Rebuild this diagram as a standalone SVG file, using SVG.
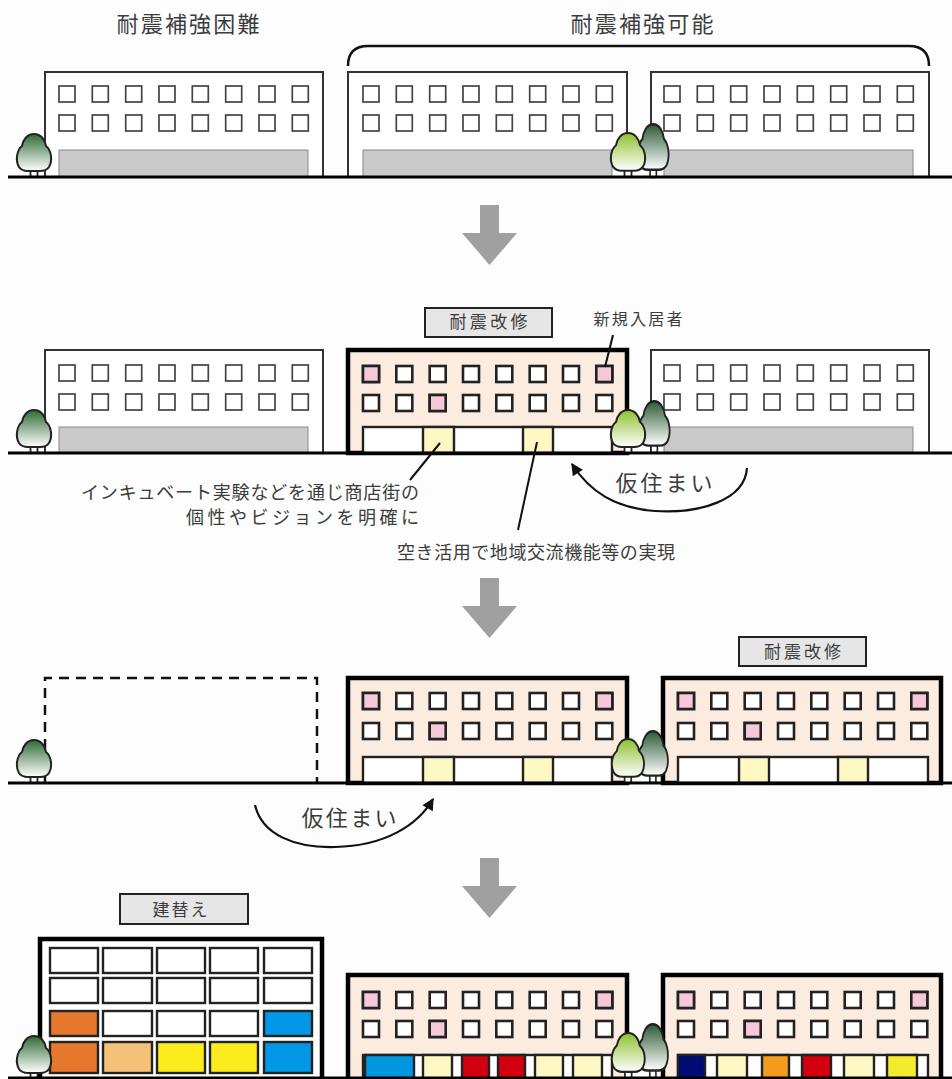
<svg xmlns="http://www.w3.org/2000/svg" xmlns:xlink="http://www.w3.org/1999/xlink" width="952" height="1079" viewBox="0 0 952 1079">
  <defs>
    <style>
      .ground{stroke:#000;stroke-width:3}
      .old{fill:#fff;stroke:#333;stroke-width:2}
      .wo{fill:#fff;stroke:#444;stroke-width:1.7}
      .band{fill:#c9c9c9;stroke:#888;stroke-width:1}
      .new{fill:#fcece0;stroke:#000;stroke-width:4.5}
      .wn{fill:#fff;stroke:#222;stroke-width:2.6}
      .pk{fill:#f7c8da}
      .strip{fill:#fff;stroke:#222;stroke-width:2.4}
      .cell{stroke:#222;stroke-width:2.4}
      .ly{fill:#fdf7c3}
      .lbl{fill:#e6e6e6;stroke:#222;stroke-width:2}
      .t{font-family:"Noto Sans CJK JP","Noto Sans CJK SC",sans-serif;fill:#3c3c3c}
      .lead{stroke:#111;stroke-width:2;fill:none}
      .curve{stroke:#111;stroke-width:2.2;fill:none}
      .down{fill:#a0a0a0}
      .trunk{fill:#fff;stroke:#222;stroke-width:1.8}
      .crown{stroke:#222;stroke-width:2}
    </style>
    <linearGradient id="gDark" x1="0" y1="0" x2="0" y2="1">
      <stop offset="0" stop-color="#2f6a34"/>
      <stop offset="1" stop-color="#ffffff"/>
    </linearGradient>
    <linearGradient id="gDeep" x1="0" y1="0" x2="0" y2="1">
      <stop offset="0" stop-color="#2d5a36"/>
      <stop offset="1" stop-color="#ffffff"/>
    </linearGradient>
    <linearGradient id="gLight" x1="0" y1="0" x2="0" y2="1">
      <stop offset="0" stop-color="#8fbf2f"/>
      <stop offset="1" stop-color="#ffffff"/>
    </linearGradient>
    <marker id="head" viewBox="0 0 10 10" refX="9" refY="5" markerWidth="13" markerHeight="12" markerUnits="userSpaceOnUse" orient="auto">
      <path d="M0,0 L10,5 L0,10 Z" fill="#111"/>
    </marker>
    <!-- one window -->
    <rect id="w" width="16" height="16"/>
    <!-- eight windows in a row -->
    <g id="row8">
      <rect x="0" width="16" height="16"/>
      <rect x="33.3" width="16" height="16"/>
      <rect x="66.7" width="16" height="16"/>
      <rect x="100" width="16" height="16"/>
      <rect x="133.3" width="16" height="16"/>
      <rect x="166.7" width="16" height="16"/>
      <rect x="200" width="16" height="16"/>
      <rect x="233.3" width="16" height="16"/>
    </g>
    <!-- trees, 36 wide and 44 tall -->
    <path id="crownShape" d="M18,1 C25,1 29,7 30,13 C35,17 37,27 33,34 C31,37 27,38 24,38 L12,38 C9,38 5,37 3,34 C-1,27 1,17 6,13 C7,7 11,1 18,1 Z"/>
    <g id="treeDark">
      <rect class="trunk" x="14.5" y="36" width="7" height="8"/>
      <use href="#crownShape" class="crown" fill="url(#gDark)"/>
    </g>
    <g id="treeDeep">
      <rect class="trunk" x="14.5" y="36" width="7" height="8"/>
      <use href="#crownShape" class="crown" fill="url(#gDeep)"/>
    </g>
    <g id="treeLight">
      <rect class="trunk" x="14.5" y="36" width="7" height="8"/>
      <use href="#crownShape" class="crown" fill="url(#gLight)"/>
    </g>
  </defs>

  <rect width="952" height="1079" fill="#fdfdfd"/>

  <!-- headings -->
  <g id="heading-hard">
    <text class="t" x="188" y="32" font-size="22" text-anchor="middle" textLength="143" lengthAdjust="spacing">耐震補強困難</text>
  </g>
  <g id="heading-possible">
    <text class="t" x="642" y="32" font-size="22" text-anchor="middle" textLength="143" lengthAdjust="spacing">耐震補強可能</text>
  </g>

  <!-- ===== stage 1 ===== -->
  <g id="s1-bldg-a">
    <rect class="old" x="45" y="72" width="278" height="105"/>
    <use href="#row8" class="wo" x="59" y="86"/>
    <use href="#row8" class="wo" x="59" y="115"/>
    <rect class="band" x="59" y="150" width="249" height="27"/>
  </g>
  <g id="s1-bldg-b">
    <rect class="old" x="348" y="72" width="279" height="105"/>
    <use href="#row8" class="wo" x="363" y="86"/>
    <use href="#row8" class="wo" x="363" y="115"/>
    <rect class="band" x="363" y="150" width="249" height="27"/>
  </g>
  <g id="s1-bldg-c">
    <rect class="old" x="651" y="72" width="278" height="105"/>
    <use href="#row8" class="wo" x="664" y="86"/>
    <use href="#row8" class="wo" x="664" y="115"/>
    <rect class="band" x="664" y="150" width="249" height="27"/>
  </g>
  <g id="s1-trees">
    <use href="#treeDark" transform="translate(16,133)"/>
    <use href="#treeDeep" transform="translate(637,123) scale(0.9,1.23)"/>
    <use href="#treeLight" transform="translate(610,132) scale(1.0,1.02)"/>
  </g>
  <line class="ground" x1="8" y1="177" x2="952" y2="177"/>

  <!-- ===== stage 2 ===== -->
  <g id="s2-bldg-a">
    <rect class="old" x="45" y="350" width="278" height="103"/>
    <use href="#row8" class="wo" x="59" y="365"/>
    <use href="#row8" class="wo" x="59" y="394"/>
    <rect class="band" x="59" y="427" width="249" height="26"/>
  </g>
  <g id="s2-bldg-b">
    <rect class="new" x="348" y="350" width="279" height="103"/>
    <use href="#row8" class="wn" x="363" y="366"/>
    <use href="#row8" class="wn" x="363" y="395"/>
    <use href="#w" class="wn pk" x="363" y="366"/>
    <use href="#w" class="wn pk" x="596.3" y="366"/>
    <use href="#w" class="wn pk" x="429.7" y="395"/>
    <rect class="strip" x="363" y="427" width="249" height="26"/>
    <rect class="cell ly" x="423" y="427" width="31" height="26"/>
    <rect class="cell ly" x="523" y="427" width="30" height="26"/>
  </g>
  <g id="s2-bldg-c">
    <rect class="old" x="651" y="350" width="278" height="103"/>
    <use href="#row8" class="wo" x="664" y="365"/>
    <use href="#row8" class="wo" x="664" y="394"/>
    <rect class="band" x="664" y="427" width="249" height="26"/>
  </g>
  <g id="s2-label-retrofit">
    <rect class="lbl" x="425" y="308" width="127" height="29"/>
    <text class="t" x="488.5" y="328" font-size="17" text-anchor="middle" textLength="78" lengthAdjust="spacing">耐震改修</text>
  </g>
  <g id="s2-label-tenants">
    <text class="t" x="638" y="325" font-size="16" text-anchor="middle" textLength="89" lengthAdjust="spacing">新規入居者</text>
  </g>
  <g id="s2-trees">
    <use href="#treeDark" transform="translate(16,409)"/>
    <use href="#treeDeep" transform="translate(638,400) scale(0.9,1.2)"/>
    <use href="#treeLight" transform="translate(610,409) scale(1.0,1.0)"/>
  </g>
  <line class="ground" x1="8" y1="453" x2="952" y2="453"/>

  <g id="s2-note-incubate">
    <text class="t" x="419" y="499" font-size="18" text-anchor="end" textLength="338" lengthAdjust="spacing">インキュベート実験などを通じ商店街の</text>
    <text class="t" x="419" y="524" font-size="18" text-anchor="end" textLength="233" lengthAdjust="spacing">個性やビジョンを明確に</text>
  </g>
  <g id="s2-note-vacancy">
    <text class="t" x="536" y="559" font-size="18" text-anchor="middle" textLength="278" lengthAdjust="spacing">空き活用で地域交流機能等の実現</text>
  </g>
  <g id="s2-note-temp">
    <text class="t" x="664" y="491" font-size="22" text-anchor="middle" textLength="97" lengthAdjust="spacing">仮住まい</text>
  </g>

  <!-- ===== stage 3 ===== -->
  <g id="s3-site">
    <path d="M45,783 V678 H317 V783" fill="none" stroke="#111" stroke-width="2.5" stroke-dasharray="10 7"/>
  </g>
  <g id="s3-bldg-b">
    <rect class="new" x="348" y="678" width="279" height="105"/>
    <use href="#row8" class="wn" x="363" y="693"/>
    <use href="#row8" class="wn" x="363" y="723"/>
    <use href="#w" class="wn pk" x="363" y="693"/>
    <use href="#w" class="wn pk" x="596.3" y="693"/>
    <use href="#w" class="wn pk" x="429.7" y="723"/>
    <rect class="strip" x="363" y="757" width="249" height="26"/>
    <rect class="cell ly" x="423" y="757" width="31" height="26"/>
    <rect class="cell ly" x="523" y="757" width="30" height="26"/>
  </g>
  <g id="s3-bldg-c">
    <rect class="new" x="663" y="678" width="278" height="105"/>
    <use href="#row8" class="wn" x="678" y="693"/>
    <use href="#row8" class="wn" x="678" y="723"/>
    <use href="#w" class="wn pk" x="678" y="693"/>
    <use href="#w" class="wn pk" x="911.3" y="693"/>
    <use href="#w" class="wn pk" x="744.7" y="723"/>
    <rect class="strip" x="678" y="757" width="250" height="26"/>
    <rect class="cell ly" x="739" y="757" width="30" height="26"/>
    <rect class="cell ly" x="838" y="757" width="30" height="26"/>
  </g>
  <g id="s3-label-retrofit">
    <rect class="lbl" x="739" y="637" width="127" height="29"/>
    <text class="t" x="802.5" y="658" font-size="17" text-anchor="middle" textLength="77" lengthAdjust="spacing">耐震改修</text>
  </g>
  <g id="s3-trees">
    <use href="#treeDark" transform="translate(16,739)"/>
    <use href="#treeDeep" transform="translate(637,730) scale(0.88,1.2)"/>
    <use href="#treeLight" transform="translate(611,738) scale(0.94,1.02)"/>
  </g>
  <line class="ground" x1="8" y1="783" x2="952" y2="783"/>
  <g id="s3-note-temp">
    <text class="t" x="349" y="826" font-size="22" text-anchor="middle" textLength="95" lengthAdjust="spacing">仮住まい</text>
  </g>

  <!-- ===== stage 4 ===== -->
  <g id="s4-bldg-new">
    <rect class="new" x="40" y="939" width="282" height="142" style="fill:#fff"/>
    <rect class="cell" fill="#fff" x="50" y="948" width="48" height="25"/>
    <rect class="cell" fill="#fff" x="103" y="948" width="49" height="25"/>
    <rect class="cell" fill="#fff" x="157" y="948" width="48" height="25"/>
    <rect class="cell" fill="#fff" x="210" y="948" width="48" height="25"/>
    <rect class="cell" fill="#fff" x="264" y="948" width="48" height="25"/>
    <rect class="cell" fill="#fff" x="50" y="978" width="48" height="25"/>
    <rect class="cell" fill="#fff" x="103" y="978" width="49" height="25"/>
    <rect class="cell" fill="#fff" x="157" y="978" width="48" height="25"/>
    <rect class="cell" fill="#fff" x="210" y="978" width="48" height="25"/>
    <rect class="cell" fill="#fff" x="264" y="978" width="48" height="25"/>
    <rect class="cell" fill="#e5782c" x="50" y="1011" width="48" height="25"/>
    <rect class="cell" fill="#fff" x="103" y="1011" width="49" height="25"/>
    <rect class="cell" fill="#fff" x="157" y="1011" width="48" height="25"/>
    <rect class="cell" fill="#fff" x="210" y="1011" width="48" height="25"/>
    <rect class="cell" fill="#0098e6" x="264" y="1011" width="48" height="25"/>
    <rect class="cell" fill="#e5782c" x="50" y="1042" width="48" height="31"/>
    <rect class="cell" fill="#f5c077" x="103" y="1042" width="49" height="31"/>
    <rect class="cell" fill="#fcec1e" x="157" y="1042" width="48" height="31"/>
    <rect class="cell" fill="#fcec1e" x="210" y="1042" width="48" height="31"/>
    <rect class="cell" fill="#0098e6" x="264" y="1042" width="48" height="31"/>
  </g>
  <g id="s4-label-rebuild">
    <rect class="lbl" x="120" y="894" width="128" height="30"/>
    <text class="t" x="180" y="916" font-size="17" text-anchor="middle" textLength="55" lengthAdjust="spacing">建替え</text>
  </g>
  <g id="s4-bldg-b">
    <rect class="new" x="348" y="975" width="279" height="106"/>
    <use href="#row8" class="wn" x="363" y="992"/>
    <use href="#row8" class="wn" x="363" y="1021"/>
    <use href="#w" class="wn pk" x="363" y="992"/>
    <use href="#w" class="wn pk" x="596.3" y="992"/>
    <use href="#w" class="wn pk" x="429.7" y="1021"/>
    <rect class="strip" x="363" y="1055" width="249" height="26"/>
    <rect class="cell" fill="#0096e0" x="365" y="1055" width="49" height="26"/>
    <rect class="cell ly" x="423" y="1055" width="29" height="26"/>
    <rect class="cell" fill="#d2000e" x="462" y="1055" width="27" height="26"/>
    <rect class="cell" fill="#d2000e" x="498" y="1055" width="27" height="26"/>
    <rect class="cell ly" x="535" y="1055" width="28" height="26"/>
    <rect class="cell ly" x="573" y="1055" width="29" height="26"/>
  </g>
  <g id="s4-bldg-c">
    <rect class="new" x="663" y="975" width="278" height="106"/>
    <use href="#row8" class="wn" x="678" y="992"/>
    <use href="#row8" class="wn" x="678" y="1021"/>
    <use href="#w" class="wn pk" x="678" y="992"/>
    <use href="#w" class="wn pk" x="911.3" y="992"/>
    <use href="#w" class="wn pk" x="744.7" y="1021"/>
    <rect class="strip" x="678" y="1055" width="250" height="26"/>
    <rect class="cell" fill="#000c73" x="678" y="1055" width="27" height="26"/>
    <rect class="cell ly" x="717" y="1055" width="30" height="26"/>
    <rect class="cell" fill="#f39c1c" x="762" y="1055" width="27" height="26"/>
    <rect class="cell" fill="#d2000e" x="802" y="1055" width="29" height="26"/>
    <rect class="cell ly" x="844" y="1055" width="30" height="26"/>
    <rect class="cell" fill="#f6ea2c" x="887" y="1055" width="30" height="26"/>
  </g>
  <g id="s4-trees">
    <use href="#treeDark" transform="translate(16,1035)"/>
    <use href="#treeDeep" transform="translate(637,1023) scale(0.88,1.25)"/>
    <use href="#treeLight" transform="translate(611,1032) scale(0.96,1.05)"/>
  </g>
  <line class="ground" x1="8" y1="1078" x2="952" y2="1078"/>

  <!-- connectors -->
  <g id="connectors">
    <!-- brace over the two retrofit-capable buildings -->
    <path d="M348,66 Q348,46 368,46 L909,46 Q929,46 929,66" fill="none" stroke="#111" stroke-width="2.5"/>
    <!-- stage arrows -->
    <polygon class="down" points="480,205 499,205 499,233 517,233 489.5,265 462,233 480,233"/>
    <polygon class="down" points="480,578 499,578 499,606 517,606 489.5,638 462,606 480,606"/>
    <polygon class="down" points="480,858 499,858 499,886 517,886 489.5,918 462,886 480,886"/>
    <!-- leaders -->
    <line class="lead" x1="613" y1="335" x2="605" y2="367"/>
    <line class="lead" x1="440" y1="443" x2="410" y2="480"/>
    <line class="lead" x1="537" y1="442" x2="518" y2="530"/>
    <!-- temporary move arrows -->
    <path class="curve" marker-end="url(#head)" d="M747,468 C745,500 700,514 655,511 C615,508 590,492 572,464"/>
    <path class="curve" marker-end="url(#head)" d="M255,805 C262,835 295,848 335,847 C385,846 418,825 433,799"/>
  </g>
</svg>
